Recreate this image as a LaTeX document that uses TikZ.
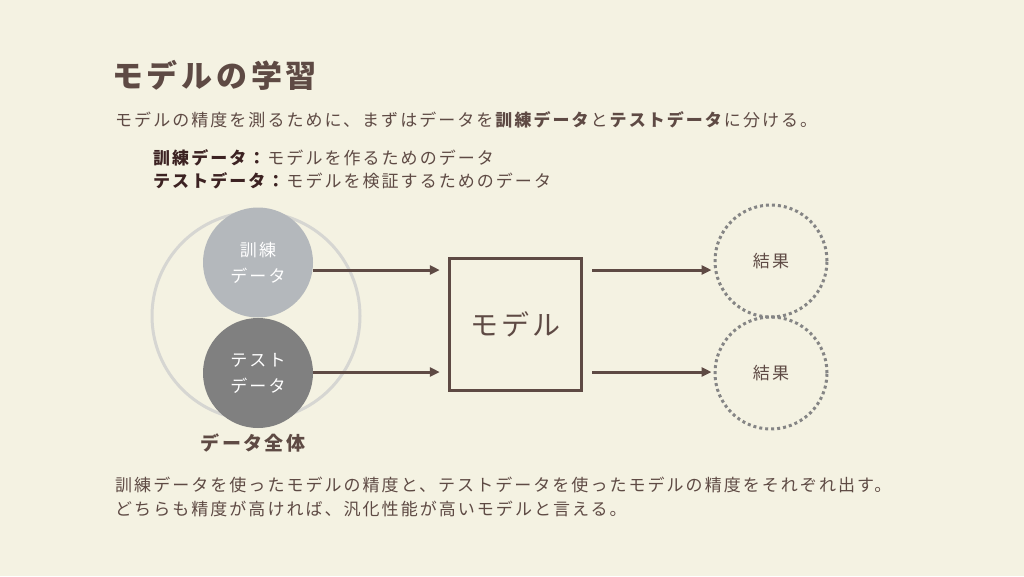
\documentclass[tikz,border=0pt]{standalone}
\usepackage{fontspec}
\setmainfont{Noto Sans CJK JP}[LetterSpace=12]
\usetikzlibrary{arrows.meta}
\definecolor{bg}{HTML}{F4F2E2}
\definecolor{brn}{HTML}{5E4A44}
\definecolor{dark}{HTML}{3C2222}
\definecolor{ringgray}{HTML}{D6D6D2}
\definecolor{traingray}{HTML}{B4B8BC}
\definecolor{testgray}{HTML}{808080}
\definecolor{dotgray}{HTML}{858585}
\newcommand{\fs}[1]{\fontsize{#1}{#1}\selectfont}
\tikzset{
  txt/.style={text=brn, inner sep=0pt, anchor=west},
  arr/.style={draw=brn, line width=3pt, -{Triangle[length=10pt,width=9pt]}},
  datacirc/.style={circle, minimum size=110pt, inner sep=0pt, text=white, align=center, font=\fontsize{17}{26}\selectfont},
  rescirc/.style={circle, minimum size=112pt, inner sep=0pt, draw=dotgray, line width=3pt, dash pattern=on 3pt off 3pt, text=brn, font=\fs{17}},
}
\begin{document}
\begin{tikzpicture}[x=1pt,y=-1pt]
\fill[bg] (0,0) rectangle (1024,576);
\useasboundingbox (0,0) rectangle (1024,576);
% title
\node[txt, font=\bfseries\fs{31}] (title) at (112,75) {モデルの学習};
\node[txt, font=\fs{17}] (sub) at (115,120) {モデルの精度を測るために、まずはデータを\textbf{訓練データ}と\textbf{テストデータ}に分ける。};
\node[txt, font=\fs{17}] (def1) at (153,158) {\textcolor{dark}{\textbf{訓練データ：}}モデルを作るためのデータ};
\node[txt, font=\fs{17}] (def2) at (153,181) {\textcolor{dark}{\textbf{テストデータ：}}モデルを検証するためのデータ};
% data circles
\node[circle, minimum size=208pt, draw=ringgray, line width=3pt] (all) at (256,316) {};
\node[datacirc, fill=traingray] (train) at (258,262.5) {訓練\\データ};
\node[datacirc, fill=testgray] (test) at (258,373) {テスト\\データ};
\node[txt, anchor=center, font=\bfseries\fs{19}] (alllabel) at (253,443) {データ全体};
% model
\node[draw=brn, line width=3.5pt, minimum width=132pt, minimum height=132pt, text=brn, font=\fs{28}] (model) at (515.5,324.5) {モデル};
% results
\node[rescirc] (res1) at (771,261) {結果};
\node[rescirc] (res2) at (771,373) {結果};
% arrows
\coordinate (r1) at (0,270);
\coordinate (r2) at (0,372);
\draw[arr, shorten >=8pt] (train.east |- r1) -- (model.west |- r1);
\draw[arr, shorten >=8pt] (test.east |- r2) -- (model.west |- r2);
\draw[arr, shorten <=9pt, shorten >=2pt] (model.east |- r1) -- (res1.west |- r1);
\draw[arr, shorten <=9pt, shorten >=2pt] (model.east |- r2) -- (res2.west |- r2);
% bottom text
\node[txt, font=\fs{17}] (b1) at (115,485) {訓練データを使ったモデルの精度と、テストデータを使ったモデルの精度をそれぞれ出す。};
\node[txt, font=\fs{17}] (b2) at (115,509) {どちらも精度が高ければ、汎化性能が高いモデルと言える。};
\end{tikzpicture}
\end{document}
